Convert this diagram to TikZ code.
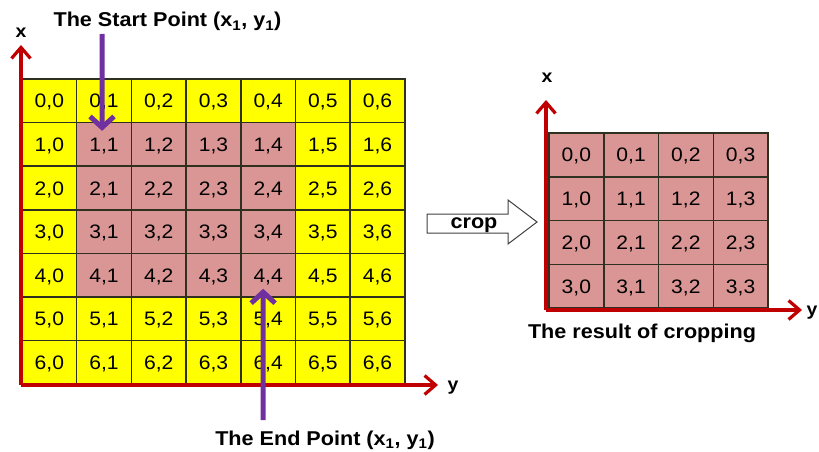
\documentclass[tikz,border=0pt]{standalone}
\usepackage{fontspec}
\setmainfont{Liberation Sans}[FakeStretch=1.08]
\usetikzlibrary{arrows.meta}
\definecolor{cellyel}{HTML}{FFFF00}
\definecolor{cellpink}{HTML}{D99694}
\definecolor{axisred}{HTML}{C00000}
\definecolor{ptrpurple}{HTML}{7030A0}
\definecolor{gridline}{HTML}{303020}
\begin{document}
\begin{tikzpicture}[x=1pt,y=-1pt,
  cellbox/.style={draw=gridline, line width=1.5pt, minimum width=54.7pt, minimum height=43.6pt,
    inner sep=0pt, text height=14pt, text depth=0pt, font=\fontsize{19.5}{22}\selectfont},
  axisline/.style={draw=axisred, line width=3.2pt, -{Straight Barb[length=11pt,width=19pt]}},
  ptr/.style={draw=ptrpurple, line width=5pt, -{Straight Barb[length=11pt,width=24pt]}},
  lab/.style={font=\fontsize{20}{22}\selectfont\bfseries, inner sep=0pt, anchor=base},
  axlab/.style={font=\fontsize{18}{20}\selectfont\bfseries, inner sep=0pt, anchor=base},
  croparrow/.style={draw=black!75, line width=1pt, fill=white}]
\useasboundingbox (0,0) rectangle (819,452);
% left grid
\foreach \r in {0,...,6}{\foreach \c in {0,...,6}{
  \def\cf{cellyel}
  \ifnum\r>0 \ifnum\r<5 \ifnum\c>0 \ifnum\c<5 \def\cf{cellpink}\fi\fi\fi\fi
  \node[cellbox, fill=\cf] (L\r\c) at ({22+54.7*(\c+0.5)},{79+43.6*(\r+0.5)}) {\r,\c};
}}
% right grid
\foreach \r in {0,...,3}{\foreach \c in {0,...,3}{
  \node[cellbox, fill=cellpink, minimum width=54.75pt, minimum height=43.75pt] (R\r\c) at ({549+54.75*(\c+0.5)},{133+43.75*(\r+0.5)}) {\r,\c};
}}
% left axes
\coordinate (Lo) at (21,385);
\coordinate (Lxt) at (21,45);
\coordinate (Lyt) at (438,385);
\draw[axisline] (Lo) -- (Lxt);
\draw[axisline] (Lo) -- (Lyt);
\node[axlab] (Lx) at (21,38) {x};
\node[axlab] (Ly) at (453,390) {y};
% right axes
\coordinate (Ro) at (546,310);
\coordinate (Rxt) at (546,100);
\coordinate (Ryt) at (802,310);
\draw[axisline] (Ro) -- (Rxt);
\draw[axisline] (Ro) -- (Ryt);
\node[axlab] (Rx) at (547,82) {x};
\node[axlab] (Ry) at (812,315) {y};
% labels
\node[lab] (St) at (167.5,27) {The Start Point (x\textsubscript{1}, y\textsubscript{1})};
\node[lab] (En) at (325,445) {The End Point (x\textsubscript{1}, y\textsubscript{1})};
\node[lab] (Res) at (642,338) {The result of cropping};
% pointers
\coordinate (sA) at (102,34);
\draw[ptr] (sA) -- ([xshift=-2pt,yshift=-9pt]L11.north);
\coordinate (eA) at (263,420);
\draw[ptr] (eA) -- ([xshift=-5pt,yshift=9pt]L44.south);
% crop arrow
\draw[croparrow] (427,214) -- (508,214) -- (508,200) -- (537,222) -- (508,244) -- (508,233) -- (427,233) -- cycle;
\node[lab] (Cr) at (474,228) {crop};
\end{tikzpicture}
\end{document}
